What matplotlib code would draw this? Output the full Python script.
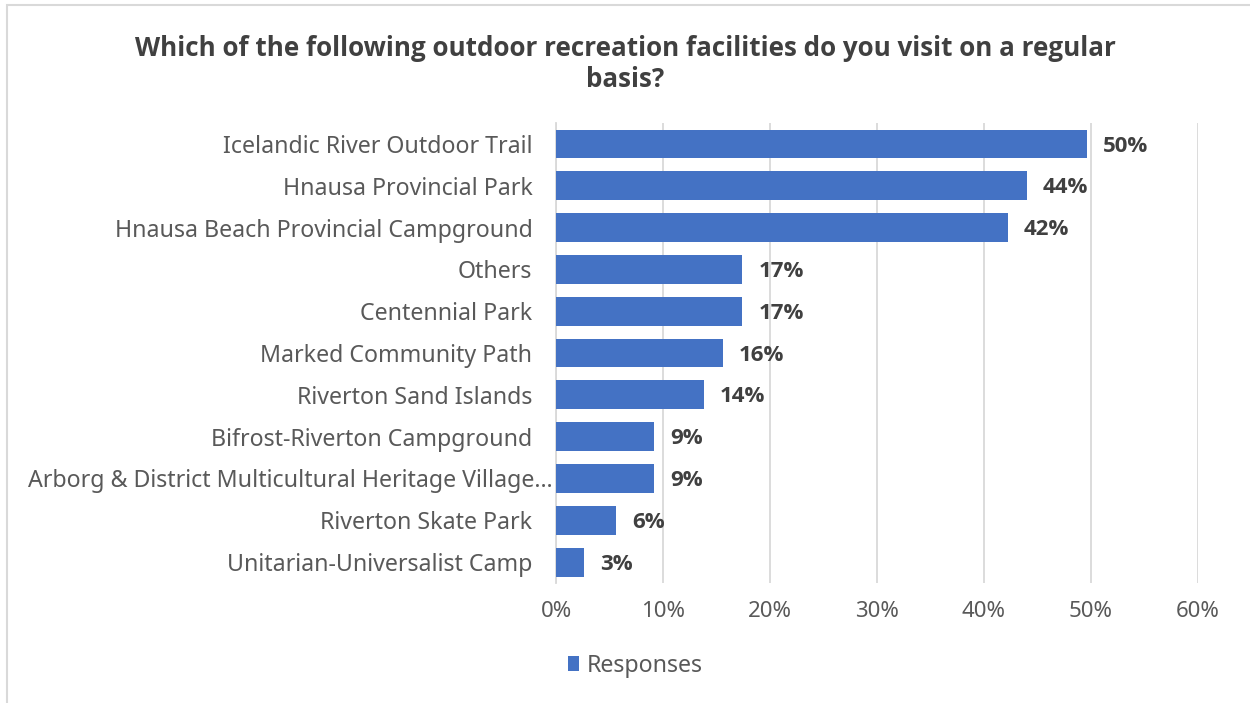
import matplotlib
matplotlib.use("Agg")
import matplotlib.pyplot as plt
import matplotlib.transforms as mtransforms
from matplotlib.patches import Rectangle
from matplotlib.ticker import FuncFormatter

plt.rcParams['font.family'] = ['Noto Sans', 'DejaVu Sans']
BOLD_FAMILY = ['Open Sans', 'DejaVu Sans']

# Survey results, top to bottom
facilities = [
    "Icelandic River Outdoor Trail",
    "Hnausa Provincial Park",
    "Hnausa Beach Provincial Campground",
    "Others",
    "Centennial Park",
    "Marked Community Path",
    "Riverton Sand Islands",
    "Bifrost-Riverton Campground",
    "Arborg & District Multicultural Heritage Village\u2026",
    "Riverton Skate Park",
    "Unitarian-Universalist Camp",
]
responses = [49.6, 44.0, 42.2, 17.4, 17.4, 15.6, 13.8, 9.2, 9.2, 5.6, 2.6]
x_ticks = [0, 10, 20, 30, 40, 50, 60]

bar_color = "#4472C4"
text_gray = "#595959"
grid_gray = "#D9D9D9"

fig = plt.figure(figsize=(12.5, 7.03), dpi=100)
ax = fig.add_axes([0.4448, 0.1707, 0.5136, 0.6543])

ypos = list(range(len(facilities)))
ax.barh(ypos, responses, height=0.69, color=bar_color, label="Responses", zorder=3)
ax.set_ylim(len(facilities) - 0.5, -0.5)
ax.set_xlim(0, 60)

ax.set_yticks(ypos)
ax.set_yticklabels(facilities, fontsize=16.7, color=text_gray)
ax.set_xticks(x_ticks)
ax.xaxis.set_major_formatter(FuncFormatter(lambda v, p: f"{v:.0f}%"))
ax.tick_params(axis='x', labelsize=16, labelcolor=text_gray, length=0, pad=13)
ax.tick_params(axis='y', length=0, pad=17)

# the truncated long label runs up to the axis line
for lbl in ax.get_yticklabels():
    if lbl.get_text().endswith("\u2026"):
        lbl.set_transform(lbl.get_transform() +
                          mtransforms.ScaledTranslation(0.2, 0, fig.dpi_scale_trans))

ax.grid(axis='x', color=grid_gray, linewidth=1.3, zorder=0)
for side in ['top', 'right', 'bottom']:
    ax.spines[side].set_visible(False)
ax.spines['left'].set_color(grid_gray)
ax.spines['left'].set_linewidth(1.3)

# value labels at the end of each bar
for y, v in zip(ypos, responses):
    ax.text(v + 1.5, y + 0.05, f"{v:.0f}%", va='center', ha='left', family=BOLD_FAMILY,
            fontsize=16, fontweight='bold', color="#404040")

fig.text(0.5, 0.950, "Which of the following outdoor recreation facilities do you visit on a regular\nbasis?",
         ha='center', va='top', fontsize=18.7, fontweight='bold', color="#404040",
         family=BOLD_FAMILY, linespacing=1.2)

fig.legend(loc='center', bbox_to_anchor=(0.508, 1 - 666 / 703), frameon=False,
           handlelength=0.5, handleheight=0.6, handletextpad=0.3,
           labelcolor=text_gray, prop={'size': 16.7})

# light outer frame (only top and left edges fall inside the image)
fig.patches.append(Rectangle((7 / 1250, -0.1), 1.2, 1 - 5 / 703 + 0.1,
                             transform=fig.transFigure, fill=False,
                             edgecolor=grid_gray, linewidth=1.5))

fig.savefig("out.png", dpi=100)
